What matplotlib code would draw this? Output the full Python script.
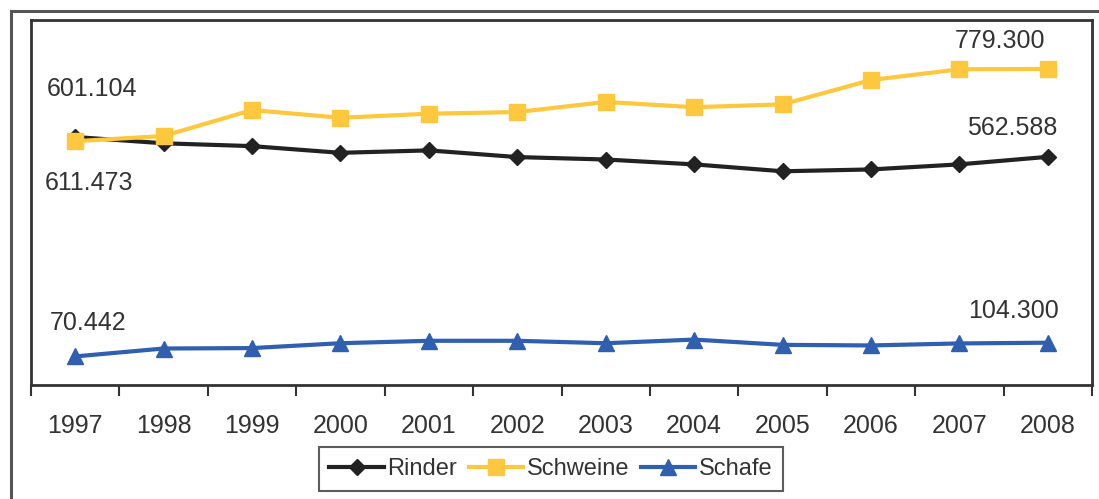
import matplotlib.pyplot as plt
from matplotlib.lines import Line2D

plt.rcParams['font.family'] = ['Liberation Sans', 'DejaVu Sans']

years = ['1997', '1998', '1999', '2000', '2001', '2002',
         '2003', '2004', '2005', '2006', '2007', '2008']
rinder = [611.473, 596, 589, 572.5, 578.5, 562, 556, 544, 527, 531.5, 544, 562.588]
schweine = [601.104, 614, 678, 659, 669, 673, 698, 685, 692, 752, 778.5, 779.3]
schafe = [70.442, 90, 91, 103, 109, 109, 103, 112, 99, 97.5, 102.5, 104.3]

text_col = '#333333'
x = list(range(len(years)))

fig = plt.figure(figsize=(10.99, 4.99), dpi=100)
ax = fig.add_axes([31 / 1099, 1 - 385 / 499, 1061 / 1099, 365 / 499])

ax.plot(x, rinder, color='#222222', lw=3, marker='D', ms=8, label='Rinder')
ax.plot(x, schweine, color='#FDC83E', lw=3, marker='s', ms=11, label='Schweine')
ax.plot(x, schafe, color='#2F5FAE', lw=3, marker='^', ms=11, label='Schafe')

ax.set_xlim(-0.5, len(years) - 0.5)
ax.set_ylim(0, 900)

# category labels at centres, tick marks on the boundaries
ax.set_xticks(x)
ax.set_xticklabels(years, fontsize=18, color=text_col)
ax.set_xticks([i - 0.5 for i in range(len(years) + 1)], minor=True)
ax.tick_params(axis='x', which='major', length=0, pad=21)
ax.tick_params(axis='x', which='minor', length=8, width=1.5, color='#333333')
ax.set_yticks([])
for s in ax.spines.values():
    s.set_color('#333333')
    s.set_linewidth(2)

# value labels at the first and last year
last = len(years) - 1
labels = [
    (0, schweine[0], '601.104', (17, 52)),
    (0, rinder[0], '611.473', (14, -46)),
    (last, schweine[last], '779.300', (-48, 28)),
    (last, rinder[last], '562.588', (-36, 29)),
    (0, schafe[0], '70.442', (13, 33)),
    (last, schafe[last], '104.300', (-34, 32)),
]
for xi, yi, txt, off in labels:
    ax.annotate(txt, xy=(xi, yi), xytext=off, textcoords='offset pixels',
                ha='center', va='center', fontsize=18, color=text_col)

leg = fig.legend(loc='center', bbox_to_anchor=(551 / 1099, 1 - 469 / 499),
                 ncol=3, fontsize=17, frameon=True, fancybox=False,
                 handlelength=2.3, handletextpad=0.15, columnspacing=0.5,
                 borderpad=0.45, borderaxespad=0)
leg.get_frame().set_edgecolor('#333333')
leg.get_frame().set_linewidth(1.5)
for t in leg.get_texts():
    t.set_color(text_col)

# outer frame around the whole chart
fig.add_artist(Line2D([10.5 / 1099, 10.5 / 1099], [0, 1 - 10.5 / 499],
                      color='#555555', lw=2.2, transform=fig.transFigure))
fig.add_artist(Line2D([10.5 / 1099, 1], [1 - 10.5 / 499, 1 - 10.5 / 499],
                      color='#555555', lw=2.2, transform=fig.transFigure))

fig.savefig('out.png', dpi=100)
